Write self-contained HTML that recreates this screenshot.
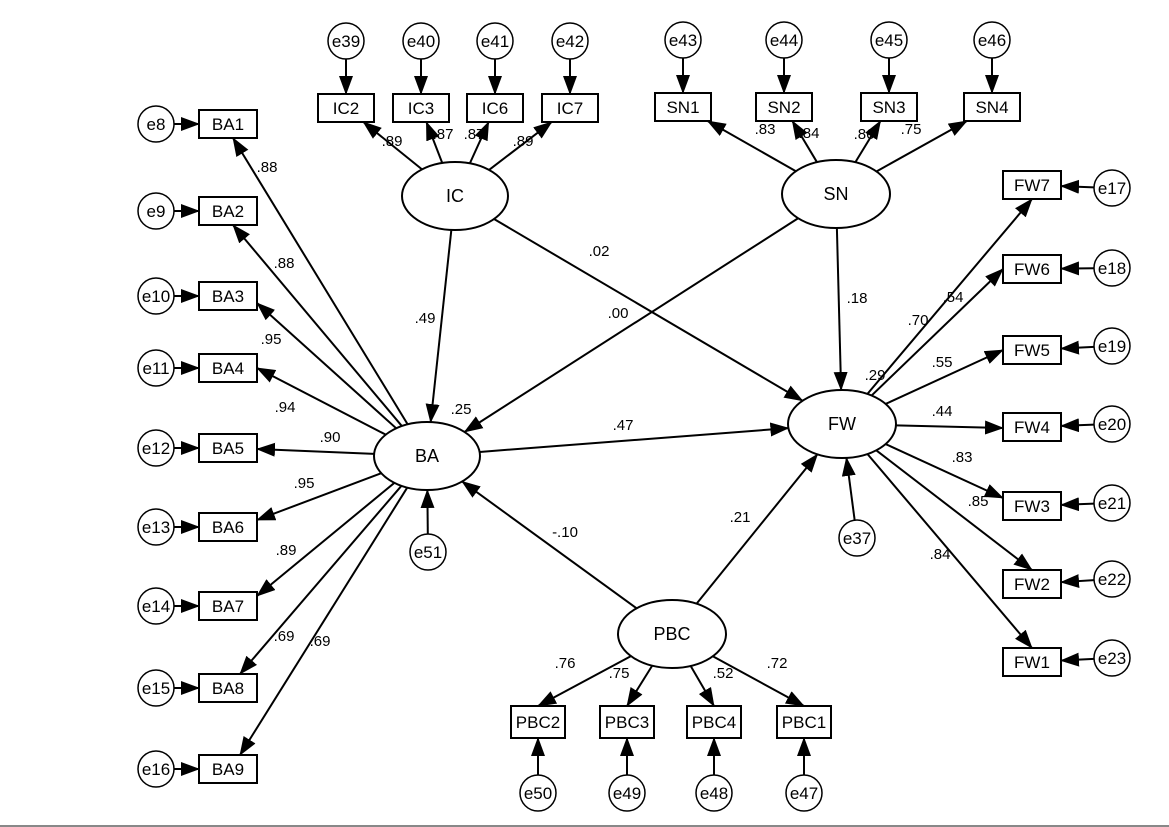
<!DOCTYPE html>
<html><head><meta charset="utf-8"><style>
html,body{margin:0;padding:0;background:#fff;}
svg{display:block;font-family:"Liberation Sans",Arial,sans-serif;}
</style></head><body>
<svg id="s" width="1169" height="827" viewBox="0 0 1169 827" xmlns="http://www.w3.org/2000/svg">
<defs><marker id="a" markerWidth="19" markerHeight="14" refX="18" refY="7" orient="auto" markerUnits="userSpaceOnUse"><path d="M0,0 L19,7 L0,14 z" fill="#000"/></marker></defs>
<line x1="0" y1="826" x2="1169" y2="826" stroke="#888" stroke-width="2"/>
</svg>
<script>
var s=document.getElementById('s'),NS='http://www.w3.org/2000/svg';
function el(t,a,txt){var e=document.createElementNS(NS,t);for(var k in a)e.setAttribute(k,a[k]);if(txt!==undefined)e.textContent=txt;s.appendChild(e);return e;}
var N={};
function E(n,x,y,rx,ry){N[n]={t:'e',x:x,y:y,rx:rx,ry:ry};}
function B(n,x,y,w,h){N[n]={t:'b',x:x,y:y,w:w||56,h:h||28};}
function C(n,x,y){N[n]={t:'c',x:x,y:y,r:18};}
E('IC',455,196,53,34);E('SN',836,194,54,34);E('BA',427,456,53,34);E('FW',842,424,54,34);E('PBC',672,634,54,34);
var bay={BA1:124,BA2:211,BA3:296,BA4:368,BA5:448,BA6:527,BA7:606,BA8:688,BA9:769};
var bae={BA1:'e8',BA2:'e9',BA3:'e10',BA4:'e11',BA5:'e12',BA6:'e13',BA7:'e14',BA8:'e15',BA9:'e16'};
for(var k in bay){B(k,228,bay[k],58,28);C(bae[k],156,bay[k]);}
var ic=[['IC2',346,'e39'],['IC3',421,'e40'],['IC6',495,'e41'],['IC7',570,'e42']];
ic.forEach(function(a){B(a[0],a[1],108,56,28);C(a[2],a[1],41);});
var sn=[['SN1',683,'e43'],['SN2',784,'e44'],['SN3',889,'e45'],['SN4',992,'e46']];
sn.forEach(function(a){B(a[0],a[1],107,56,28);C(a[2],a[1],40);});
var fw=[['FW7',185,188,'e17'],['FW6',269,268,'e18'],['FW5',350,346,'e19'],['FW4',427,424,'e20'],['FW3',506,503,'e21'],['FW2',584,579,'e22'],['FW1',662,658,'e23']];
fw.forEach(function(a){B(a[0],1032,a[1],58,28);C(a[3],1112,a[2]);});
var pb=[['PBC2',538,'e50'],['PBC3',627,'e49'],['PBC4',714,'e48'],['PBC1',804,'e47']];
pb.forEach(function(a){B(a[0],a[1],722,54,32);C(a[2],a[1],793);});
C('e51',428,552);C('e37',857,538);
function edge(n,dx,dy){var o=N[n],l=Math.hypot(dx,dy),ux=dx/l,uy=dy/l,t;
 if(o.t=='e'){t=1/Math.sqrt(ux*ux/(o.rx*o.rx)+uy*uy/(o.ry*o.ry));}
 else if(o.t=='c'){t=o.r;}
 else{t=Math.min(ux?Math.abs(o.w/2/ux):1e9,uy?Math.abs(o.h/2/uy):1e9);}
 return [o.x+ux*t,o.y+uy*t];}
function A(f,to,tp){var a=N[f],b=N[to],tx=tp?tp[0]:b.x,ty=tp?tp[1]:b.y;
 var p=edge(f,tx-a.x,ty-a.y);var q;
 if(tp){q=tp;}else q=edge(to,a.x-b.x,a.y-b.y);
 el('line',{x1:p[0],y1:p[1],x2:q[0],y2:q[1],stroke:'#000','stroke-width':2,'marker-end':'url(#a)'});}
var baT={BA1:[233,138],BA2:[233,225],BA3:[257,303],BA4:[257,368],BA5:[257,449],BA6:[257,520],BA7:[257,596],BA8:[240,674],BA9:[240,755]};
for(var k in baT)A('BA',k,baT[k]);
for(var k in bae)A(bae[k],k);
ic.forEach(function(a){A('IC',a[0]);A(a[2],a[0]);});
sn.forEach(function(a){A('SN',a[0]);A(a[2],a[0]);});
var fwT={FW7:[1032,199],FW6:[1003,269],FW5:[1003,350],FW4:[1003,428],FW3:[1003,498],FW2:[1032,570],FW1:[1032,648]};
fw.forEach(function(a){A('FW',a[0],fwT[a[0]]);A(a[3],a[0]);});
pb.forEach(function(a){A('PBC',a[0],[a[1],706]);A(a[2],a[0]);});
A('IC','BA');A('SN','BA');A('IC','FW');A('SN','FW');A('BA','FW');A('PBC','BA');A('PBC','FW');A('e51','BA');A('e37','FW');
for(var n in N){var o=N[n];
 if(o.t=='e'){el('ellipse',{cx:o.x,cy:o.y,rx:o.rx,ry:o.ry,fill:'#fff',stroke:'#000','stroke-width':2});el('text',{x:o.x,y:o.y+6,'text-anchor':'middle','font-size':18},n);}
 else if(o.t=='b'){el('rect',{x:o.x-o.w/2,y:o.y-o.h/2,width:o.w,height:o.h,fill:'#fff',stroke:'#000','stroke-width':2});el('text',{x:o.x,y:o.y+6,'text-anchor':'middle','font-size':17},n);}
 else{el('circle',{cx:o.x,cy:o.y,r:o.r,fill:'#fff',stroke:'#000','stroke-width':1.5});el('text',{x:o.x,y:o.y+6,'text-anchor':'middle','font-size':17},n);}}
var L=[[267,172,'.88'],[284,268,'.88'],[271,344,'.95'],[285,412,'.94'],[330,442,'.90'],[304,488,'.95'],[286,555,'.89'],[284,641,'.69'],[320,646,'.69'],
[392,146,'.89'],[443,139,'.87'],[474,139,'.87'],[523,146,'.89'],[425,323,'.49'],[461,414,'.25'],[599,256,'.02'],[618,318,'.00'],[623,430,'.47'],[565,537,'-.10'],[740,522,'.21'],
[765,134,'.83'],[809,138,'.84'],[864,139,'.86'],[911,134,'.75'],[857,303,'.18'],[875,380,'.29'],[953,302,'.54'],[918,325,'.70'],[942,367,'.55'],[942,416,'.44'],[962,462,'.83'],[978,506,'.85'],[940,559,'.84'],
[565,668,'.76'],[619,678,'.75'],[723,678,'.52'],[777,668,'.72']];
L.forEach(function(l){el('text',{x:l[0],y:l[1],'text-anchor':'middle','font-size':15},l[2]);});
</script>
</body></html>
